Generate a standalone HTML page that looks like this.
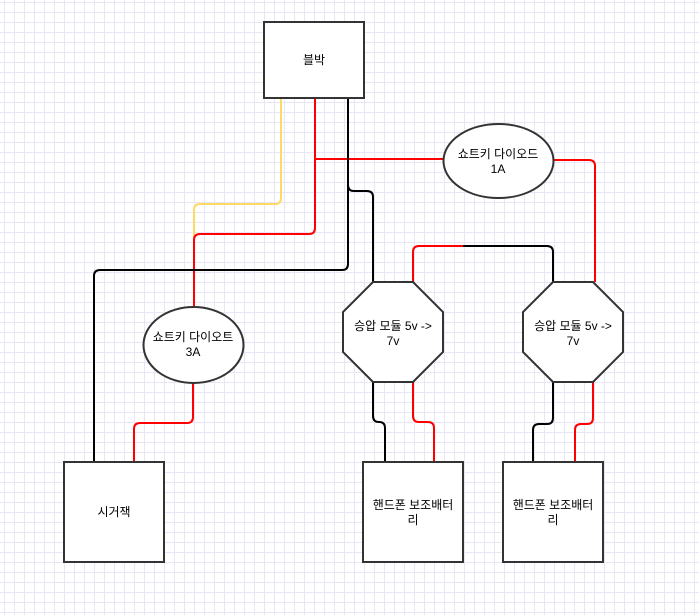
<!DOCTYPE html>
<html><head><meta charset="utf-8"><style>
html,body{margin:0;padding:0;background:#fff}
body{width:699px;height:615px;overflow:hidden;
background-image:linear-gradient(to right,#e6e6f6 1px,transparent 1px),linear-gradient(to bottom,#e6e6f6 1px,transparent 1px);
background-size:10px 10px;background-position:4px 2px}
svg{position:absolute;left:0;top:0}
text{font-family:"Liberation Sans","Noto Sans CJK KR",sans-serif;font-size:12px;fill:#000;text-anchor:middle}
</style></head><body>
<svg width="699" height="615" viewBox="0 0 699 615">
<g fill="none" stroke-width="2" stroke-linejoin="round">
<!-- yellow -->
<path d="M281 98 V198 Q281 204 275 204 H200 Q194 204 194 210 V300" stroke="#ffd966"/>
<!-- red to 3A -->
<path d="M315 98 V228 Q315 234 309 234 H200 Q194 234 194 240 V307" stroke="#ff0000"/>
<!-- red to 1A -->
<path d="M315 159 H444" stroke="#ff0000"/>
<path d="M554 160 H589 Q595 160 595 166 V282" stroke="#ff0000"/>
<!-- black from top box -->
<path d="M348 98 V264 Q348 270 342 270 H100 Q94 270 94 276 V462" stroke="#000"/>
<path d="M348 98 V185 Q348 191 354 191 H367 Q373 191 373 197 V282" stroke="#000"/>
<!-- link between octagons -->
<path d="M413 282 V252 Q413 246 419 246 H463" stroke="#ff0000"/>
<path d="M463 246 H547 Q553 246 553 252 V282" stroke="#000"/>
<!-- left octagon bottom -->
<path d="M373 382 V416 Q373 422 379 422 Q385 422 385 428 V462" stroke="#000"/>
<path d="M413 382 V416 Q413 422 419 422 H428 Q434 422 434 428 V462" stroke="#ff0000"/>
<!-- right octagon bottom -->
<path d="M553 382 V418 Q553 424 547 424 H539 Q533 424 533 430 V462" stroke="#000"/>
<path d="M593 382 V418 Q593 424 587 424 H581 Q575 424 575 430 V462" stroke="#ff0000"/>
<!-- 3A bottom -->
<path d="M193 383 V417 Q193 423 187 423 H140 Q134 423 134 429 V462" stroke="#ff0000"/>
</g>
<g fill="#fff" stroke="#333" stroke-width="2">
<rect x="264" y="22" width="100" height="76"/>
<ellipse cx="498.5" cy="161" rx="55" ry="37"/>
<ellipse cx="193.5" cy="345" rx="50" ry="38"/>
<polygon points="373,282 413,282 443,312 443,352 413,382 373,382 343,352 343,312"/>
<polygon points="553,282 593,282 623,312 623,352 593,382 553,382 523,352 523,312"/>
<rect x="64" y="462" width="100" height="100"/>
<rect x="363" y="462" width="100" height="100"/>
<rect x="503" y="462" width="100" height="100"/>
</g>
<text x="314" y="64">블박</text>
<text x="498" y="158">쇼트키 다이오드</text>
<text x="498" y="173">1A</text>
<text x="193" y="341">쇼트키 다이오트</text>
<text x="193" y="356">3A</text>
<text x="393" y="330">승압 모듈 5v -&gt;</text>
<text x="393" y="345">7v</text>
<text x="573" y="330">승압 모듈 5v -&gt;</text>
<text x="573" y="345">7v</text>
<text x="114" y="516">시거잭</text>
<text x="413" y="509">핸드폰 보조배터</text>
<text x="413" y="524">리</text>
<text x="553" y="509">핸드폰 보조배터</text>
<text x="553" y="524">리</text>
</g>
</svg>
</body></html>
